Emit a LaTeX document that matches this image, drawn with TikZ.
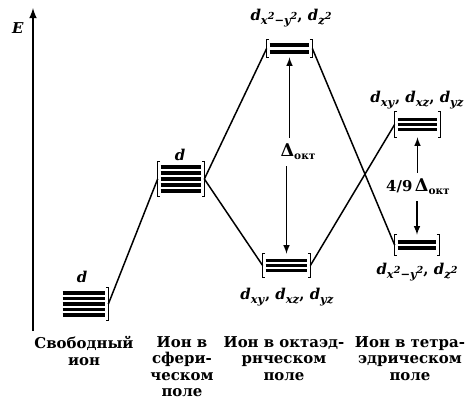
\documentclass[tikz,border=0pt]{standalone}
\usepackage{fontspec}
\setmainfont{DejaVu Serif}
\newcommand{\dorb}[1]{\textit{d}\raisebox{-0.45ex}{\fontsize{6.5}{7}\selectfont\textit{#1}}}
\newcommand{\sq}{\raisebox{0.75ex}{\fontsize{5.5}{6}\selectfont 2}}
\newcommand{\okt}{\raisebox{-0.4ex}{\fontsize{6}{7}\selectfont окт}}

\begin{document}
\begin{tikzpicture}[x=0.02cm, y=-0.02cm,
  every node/.style={font=\bfseries\fontsize{8.5}{9.4}\selectfont},
  grp/.style={inner sep=0pt},
  lvl/.style={line width=2pt},
  brk/.style={line width=0.8pt},
  conn/.style={line width=0.85pt},
  gap/.style={line width=0.7pt, -latex},
  ioncap/.style={anchor=north, align=center, inner sep=0pt}]
  \useasboundingbox (0,0) rectangle (470,403);
  \coordinate (axbot) at (33,331);
  \coordinate (axtop) at (33,8);
  \draw[line width=1pt, -latex] (axbot) -- (axtop);
  \node (elbl) at (18,28) {\textit{E}};

  \node[grp, minimum width=0.96cm, minimum height=0.64cm] (free) at (84,304) {};
  \node[grp, minimum width=0.92cm, minimum height=0.68cm] (sph) at (181,179) {};
  \node[grp, minimum width=0.90cm, minimum height=0.34cm] (octup) at (289.5,48.5) {};
  \node[grp, minimum width=0.94cm, minimum height=0.46cm] (octdn) at (286.5,265.5) {};
  \node[grp, minimum width=0.90cm, minimum height=0.50cm] (tetup) at (417.5,124.5) {};
  \node[grp, minimum width=0.88cm, minimum height=0.40cm] (tetdn) at (417,245) {};

  \foreach \nm/\n/\s in {free/5/0.11, sph/5/0.12, octup/2/0.14, octdn/3/0.10, tetup/3/0.10, tetdn/2/0.12}
    \foreach \k in {1,...,\n}
      \draw[lvl] ([xshift=0.06cm, yshift={((\n+1)/2-\k)*\s*1cm}]\nm.west)
        -- ([xshift=-0.06cm, yshift={((\n+1)/2-\k)*\s*1cm}]\nm.east);
  \foreach \nm in {sph, octup, octdn, tetup, tetdn}
    \draw[brk] ([xshift=0.05cm]\nm.north west) -- (\nm.north west)
      -- (\nm.south west) -- ([xshift=0.05cm]\nm.south west);
  \foreach \nm in {free, sph, octup, octdn, tetup, tetdn}
    \draw[brk] ([xshift=-0.05cm]\nm.north east) -- (\nm.north east)
      -- (\nm.south east) -- ([xshift=-0.05cm]\nm.south east);

  \draw[conn] (free.east) -- (sph.west);
  \draw[conn] (sph.east) -- (octup.west);
  \draw[conn] (sph.east) -- (octdn.west);
  \draw[conn] (octup.east) -- (tetdn.west);
  \draw[conn] (octdn.east) -- (tetup.west);

  \node (dfree) at (82,277) {\textit{d}};
  \node (dsph) at (180,155) {\textit{d}};
  \node (lbloctup) at (291,18) {\dorb{x\sq{}−y\sq}, \dorb{z\sq}};
  \node (lbloctdn) at (287,297) {\dorb{xy}, \dorb{xz}, \dorb{yz}};
  \node (lbltetup) at (417,100) {\dorb{xy}, \dorb{xz}, \dorb{yz}};
  \node (lbltetdn) at (417,272) {\dorb{x\sq{}−y\sq}, \dorb{z\sq}};

  \node (doct) at (298,152) {{\fontsize{10}{11}\selectfont Δ}\okt};
  \draw[gap] (doct.north -| octup.south) -- (octup.south);
  \draw[gap] (doct.south -| octdn.north) -- (octdn.north);
  \node (dtet) at (418,187) {4/9\,{\fontsize{10}{11}\selectfont Δ}\okt};
  \draw[gap] (dtet.north -| tetup.south) -- (tetup.south);
  \draw[gap] (dtet.south -| tetdn.north) -- (tetdn.north);

  \node[ioncap] (capfree) at (84,336) {Свободный\\ион};
  \node[ioncap] (capsph) at (182,336) {Ион в\\сфери-\\ческом\\поле};
  \node[ioncap] (capoct) at (284,336) {Ион в октаэд-\\рнческом\\поле};
  \node[ioncap] (captet) at (410,336) {Ион в тетра-\\эдрическом\\поле};
\end{tikzpicture}
\end{document}
